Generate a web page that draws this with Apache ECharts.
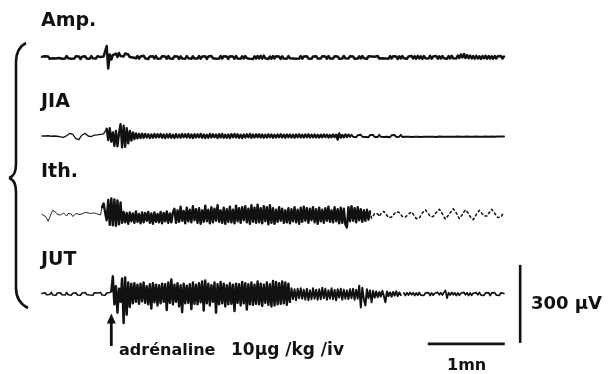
<!DOCTYPE html>
<html>
<head>
<meta charset="utf-8">
<script src="https://cdn.jsdelivr.net/npm/echarts@6/dist/echarts.min.js"></script>
<style>
  html, body { margin: 0; padding: 0; background: #fff; }
  #chart { width: 611px; height: 374px; }
</style>
</head>
<body>
<div id="chart"></div>
<script>
// EMG recordings (µV), one sample every 0.02 min, 6 min per trace
const traceNames = ['Amp.', 'JIA', 'Ith.', 'JUT'];
const sampleStepMin = 0.02;

const ampValues = [
  3,-4,5,-2,4,-5,2,-3,5,-4,  3,-2,4,-5,3,-4,6,-3,4,-5,
  2,-4,5,-3,4,-6,3,-2,5,-4,  3,-5,6,-3,4,-4,5,-3,2,-5,
  4,8,46,-44,12,-8,10,4,16,2,  18,6,14,4,16,8,12,2,10,0,
  8,-3,6,-5,4,-4,7,-3,5,-6,  4,-2,5,-4,6,-5,3,-4,5,-3,
  4,-5,6,-4,3,-5,5,-3,4,-6,  5,-4,3,-5,6,-3,4,-5,5,-4,
  3,-4,6,-5,4,-3,5,-6,4,-4,  6,-3,5,-5,3,-4,6,-4,5,-3,
  4,-6,5,-3,4,-5,6,-4,3,-5,  5,-4,6,-3,4,-5,3,-6,5,-4,
  6,-4,7,-5,8,-3,5,-6,4,-5,  6,-4,5,-3,4,-6,5,-4,3,-5,
  6,-3,5,-4,4,-5,3,-4,6,-5,  4,-3,5,-4,3,-5,4,-3,5,-4,
  3,-4,5,-3,4,-5,6,-4,3,-4,  5,-3,4,-5,3,-4,6,-3,4,-4,
  5,-3,4,-5,3,-4,5,-4,6,-3,  4,-5,5,-3,4,-4,3,-5,6,-4,
  4,-3,5,-4,3,-5,6,-4,5,-3,  4,-6,5,-4,6,-3,5,-5,4,-3,
  6,-4,5,-5,7,-4,5,-6,6,-3,  5,-4,7,-5,4,-4,6,-5,5,-4,
  6,-3,5,-5,6,-4,7,-3,5,-4,  8,-2,12,0,14,-2,10,-3,8,-4,
  6,-5,7,-4,5,-6,6,-3,7,-5,  6,-4,5,-5,6,-4,5,-3,6,-4,
  4
];

const jiaValues = [
  0,1,0,-1,1,0,-1,1,0,0,  -1,-2,-3,-4,-5,-3,1,6,10,11,
  6,-2,-10,-16,-14,-4,4,9,10,6,  0,-4,-2,1,3,3,4,5,6,4,
  8,6,28,-16,30,-22,14,-38,20,-40,  10,46,-44,40,-42,30,-28,20,-18,14,
  -12,10,-9,8,-8,9,-7,8,-6,7,  -8,6,-7,8,-6,7,-5,8,-7,6,
  -8,7,-6,8,-7,5,-8,7,-6,6,  -7,8,-5,7,-6,8,-7,6,-8,7,
  -6,7,-5,8,-7,6,-8,5,-7,8,  -6,7,-5,6,-8,7,-6,8,-7,5,
  -7,6,-8,7,-5,8,-6,7,-7,5,  -8,6,-6,7,-5,8,-7,6,-6,7,
  -5,7,-6,6,-7,5,-6,7,-5,6,  -7,5,-6,6,-5,7,-6,5,-7,6,
  -5,6,-6,5,-7,6,-5,7,-6,5,  -6,6,-5,7,-6,5,-5,6,-6,5,
  -6,5,-5,6,-4,5,-6,4,-5,6,  -4,5,-14,10,-6,4,-5,6,-4,5,
  -4,5,-3,4,-5,3,-4,5,-3,4,  -4,3,-5,4,-3,4,-4,3,-4,5,
  -3,4,-4,3,-3,4,-5,3,-3,4,  -4,3,-3,5,-4,3,-3,4,-3,3,
  -4,3,-3,4,-3,3,-4,3,-3,4,  -3,2,-3,4,-3,3,-4,3,-2,3,
  -3,3,-3,2,-3,4,-3,2,-3,3,  -2,3,-3,2,-3,3,-2,3,-3,2,
  -3,3,-2,3,-3,2,-3,3,-2,3,  -3,2,-2,3,-3,2,-2,3,-2,2,
  -2
];

const ithValues = [
  2,0,-4,-12,-24,-10,6,18,22,10,  2,-2,0,4,8,2,-4,6,10,4,
  -6,-2,6,8,2,-2,4,6,10,4,  8,12,6,2,8,6,4,2,0,30,
  44,10,-20,58,-38,64,-40,60,-42,56,  -36,48,-30,12,-28,8,-34,10,-24,6,
  -30,14,-26,4,-32,10,-28,8,-22,12,  -30,6,-34,10,-26,4,-28,12,-32,8,
  -24,14,-30,6,-28,10,24,-30,18,-26,  32,-22,16,-32,28,-24,20,-28,34,-20,
  22,-30,26,-34,18,-26,36,-24,20,-32,  30,-28,24,-22,38,-26,18,-30,28,-34,
  22,-26,32,-28,20,-32,36,-24,26,-30,  30,-20,34,-28,24,-34,38,-26,28,-30,
  40,-28,26,-32,34,-24,30,-36,38,-30,  26,-34,20,-26,30,-22,24,-30,18,-28,
  26,-32,22,-24,30,-28,20,-34,28,-26,  32,-22,26,-30,24,-20,30,-28,22,-34,
  28,-24,20,-30,26,-22,32,-26,18,-28,  30,-24,22,-32,28,-30,24,-36,-48,30,
  -24,34,-22,26,-28,30,-20,22,-26,18,  -22,20,-18,14,-12,-4,6,12,4,-6,
  4,10,14,8,-2,-10,-14,-8,0,6,  12,16,10,2,-6,-12,-8,-2,4,8,
  12,6,-4,-14,-20,-12,-2,8,14,20,  12,4,-6,-12,-6,2,10,16,22,14,
  4,-8,-16,-10,0,8,16,24,18,8,  -4,-14,-8,2,12,20,14,6,-6,-12,
  -18,-10,2,10,18,12,4,-4,-10,-4,  6,14,22,16,6,-2,-10,-16,-8,2,
  8
];

const jutValues = [
  2,-4,5,-3,4,-2,6,-4,3,-5,  4,-2,5,-3,2,-4,6,-3,4,-5,
  3,-2,5,-4,2,-5,4,-3,6,-2,  4,-4,3,-5,5,-2,4,-3,6,-4,
  3,-5,4,-2,6,10,68,-40,30,-72,  20,-30,60,-112,64,-80,44,-50,40,-36,
  42,-30,36,-38,40,-28,44,-34,30,-40,  38,-56,42,-32,36,-44,34,-36,40,-30,
  38,-62,44,-34,56,-40,36,-30,42,-48,  34,-70,40,-36,32,-34,38,-58,44,-38,
  36,-40,42,-32,48,-64,52,-36,40,-44,  34,-30,44,-72,38,-40,46,-36,40,-48,
  34,-40,42,-38,36,-66,40,-34,38,-44,  46,-36,42,-60,38,-40,44,-42,36,-38,
  48,-40,40,-46,36,-34,44,-42,38,-48,  50,-44,46,-40,42,-38,48,-36,44,-42,
  40,-30,22,-20,18,-24,20,-16,22,-18,  16,-22,20,-24,14,-20,22,-18,16,-22,
  18,-20,24,-16,20,-22,14,-18,22,-20,  16,-24,18,-14,20,-22,16,-18,14,-20,
  18,-16,20,-22,16,-18,32,-52,24,-20,  -44,18,-16,14,-32,12,-14,10,-12,8,
  -10,12,-8,-32,10,-8,6,-10,8,-6,  10,-8,6,-4,null,4,-6,5,-4,6,
  -3,5,-6,4,-5,6,-4,3,-5,4,  -3,5,-6,4,-5,3,-4,6,-3,5,
  -4,6,14,-16,5,-4,6,-3,5,-6,  4,-5,3,-4,6,-3,5,-6,4,-5,
  3,-4,5,-3,6,-4,3,-5,4,-3,  5,-6,4,-3,5,-4,3,-5,4,-3,
  2
];

// calibration bars and injection marker
const scaleBarUV = 300;
const scaleBarMin = 1;
const injectionMin = 0.9;
const injectionLabel = 'adrénaline';
const doseLabel = '10µg /kg /iv';
const timeLabel = '1mn';
const voltLabel = '300 µV';

// ---- layout ----
const PX_PER_UV = 78 / 300;
const PX_PER_MIN = 77;
const X_MAX = 6.3;
const HALF = 60;                         // half height of each trace band, px
const baselines = [55, 136, 215, 294];
const uvRange = HALF / PX_PER_UV;

const toPoints = (vals, from, to) =>
  vals.slice(from, to).map((v, k) => [(from + k) * sampleStepMin, v]);

const grids = baselines.map(b => ({
  left: 42, width: X_MAX * PX_PER_MIN, top: b - HALF, height: 2 * HALF
}));
const xAxes = grids.map((g, i) => ({
  type: 'value', gridIndex: i, min: 0, max: X_MAX, show: false
}));
const yAxes = grids.map((g, i) => ({
  type: 'value', gridIndex: i, min: -uvRange, max: uvRange, show: false
}));

const ink = '#111';
const trace = (i, data, style) => ({
  type: 'line', xAxisIndex: i, yAxisIndex: i, data,
  showSymbol: false, symbol: 'none', silent: true, animation: false,
  clip: false, connectNulls: false,
  lineStyle: Object.assign({ color: ink, width: 1.5, join: 'round', cap: 'round' }, style || {})
});

const n = ampValues.length;
const series = [
  trace(0, toPoints(ampValues, 0, n), { width: 2.5 }),
  trace(1, toPoints(jiaValues, 0, 43), { width: 1.3 }),
  trace(1, toPoints(jiaValues, 42, 200), { width: 2.3 }),
  trace(1, toPoints(jiaValues, 199, n), { width: 1.9 }),
  trace(2, toPoints(ithValues, 0, 40), { width: 0.9 }),
  trace(2, toPoints(ithValues, 39, 214), { width: 2.4 }),
  trace(2, toPoints(ithValues, 213, n), { width: 1.5, type: [2, 3] }),
  trace(3, toPoints(jutValues, 0, 46), { width: 1.6 }),
  trace(3, toPoints(jutValues, 45, 162), { width: 2.4 }),
  trace(3, toPoints(jutValues, 161, 235), { width: 2.0 }),
  trace(3, toPoints(jutValues, 235, n), { width: 1.7 })
];

// calibration: vertical 300 µV bar and horizontal 1 min bar next to the JUT trace
const vBarX = 6.21, vBarBottom = -188;
series.push(trace(3, [[vBarX, vBarBottom], [vBarX, vBarBottom + scaleBarUV]], { width: 2.6, cap: 'butt' }));
const hBarY = -192, hBarEnd = 6.01;
series.push(trace(3, [[hBarEnd - scaleBarMin, hBarY], [hBarEnd, hBarY]], { width: 2.6, cap: 'butt' }));

// injection arrow
series.push({
  type: 'line', xAxisIndex: 3, yAxisIndex: 3, silent: true, animation: false, clip: false,
  showSymbol: true, symbol: 'none',
  data: [
    { value: [injectionMin, -200] },
    { value: [injectionMin, -94], symbol: 'triangle', symbolSize: [9, 10], itemStyle: { color: ink } }
  ],
  lineStyle: { color: ink, width: 2.8 }
});

const font = '"DejaVu Sans", sans-serif';
const label = (x, y, text, size) => ({
  type: 'text', left: x, top: y, silent: true,
  style: { text, fill: ink, font: `bold ${size}px ${font}` }
});

// left brace grouping the four traces
const braceStyle = { stroke: ink, lineWidth: 2.6, fill: null };
const brace = [
  { type: 'bezierCurve', shape: { x1: 26, y1: 43, x2: 16, y2: 62, cpx1: 16, cpy1: 48 } },
  { type: 'line', shape: { x1: 16, y1: 62, x2: 16, y2: 164 } },
  { type: 'bezierCurve', shape: { x1: 16, y1: 164, x2: 9, y2: 178, cpx1: 16, cpy1: 176 } },
  { type: 'bezierCurve', shape: { x1: 9, y1: 178, x2: 16, y2: 192, cpx1: 16, cpy1: 180 } },
  { type: 'line', shape: { x1: 16, y1: 192, x2: 16, y2: 288 } },
  { type: 'bezierCurve', shape: { x1: 16, y1: 288, x2: 28, y2: 308, cpx1: 16, cpy1: 302 } }
].map(el => Object.assign(el, { silent: true, style: braceStyle }));

const chart = echarts.init(document.getElementById('chart'), null, { renderer: 'canvas' });
chart.setOption({
  backgroundColor: '#fff',
  animation: false,
  grid: grids,
  xAxis: xAxes,
  yAxis: yAxes,
  series,
  graphic: [
    label(41, 12, traceNames[0], 19),
    label(41, 93, traceNames[1], 19),
    label(41, 163, traceNames[2], 19),
    label(41, 251, traceNames[3], 19),
    label(119, 343, injectionLabel, 16),
    label(231, 342, doseLabel, 17),
    label(447, 358, timeLabel, 16),
    label(531, 295, voltLabel, 18)
  ].concat(brace)
});
</script>
</body>
</html>
